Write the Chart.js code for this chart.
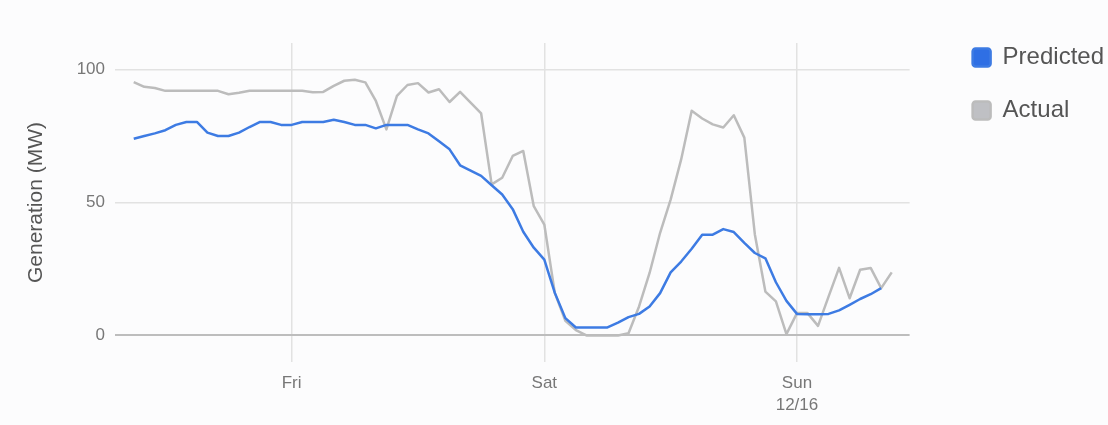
<!DOCTYPE html>
<html>
<head>
<meta charset="utf-8">
<script src="https://cdn.jsdelivr.net/npm/chart.js@4"></script>
<style>
  html, body { margin: 0; padding: 0; background: #fcfcfd; }
  #wrap { width: 1108px; height: 425px; }
</style>
</head>
<body>
<div id="wrap"><canvas id="genChart"></canvas></div>
<script>
// hours counted from Thursday 00:00
var hours = [9, 10, 11, 12, 13, 14, 15, 16, 17, 18, 19, 20, 21, 22, 23, 24, 25, 26, 27, 28,
             29, 30, 31, 32, 33, 34, 35, 36, 37, 38, 39, 40, 41, 42, 43, 44, 45, 46, 47, 48,
             49, 50, 51, 52, 53, 54, 55, 56, 57, 58, 59, 60, 61, 62, 63, 64, 65, 66, 67, 68,
             69, 70, 71, 72, 73, 74, 75, 76, 77, 78, 79, 80, 81];

var predicted = [74, 75, 76, 77.2, 79.2, 80.3, 80.3, 76.3, 75,
                 75, 76.3, 78.4, 80.3, 80.3, 79.2, 79.2, 80.3, 80.3, 80.3,
                 81.1, 80.3, 79.2, 79.2, 77.9, 79.2, 79.2, 79.2, 77.5, 76,
                 73, 70, 64, 62, 60, 56.5, 53, 47.5, 39, 33,
                 28.5, 16, 6.5, 3, 3, 3, 3, 4.8, 6.9, 8.1,
                 10.9, 15.9, 23.7, 27.8, 32.6, 37.9, 37.9, 40, 38.9, 34.8,
                 31, 29, 20, 13, 8.1, 8, 8, 8.1, 9.4, 11.5,
                 13.7, 15.5, 17.8];

var actual = [95.3, 93.5, 93.1, 92, 92, 92, 92, 92, 92,
              90.7, 91.3, 92, 92, 92, 92, 92, 92, 91.5, 91.6,
              93.9, 95.8, 96.2, 95.2, 88.2, 77.5, 90.1, 94.2, 94.9, 91.4,
              92.6, 87.8, 91.6, 87.6, 83.5, 56.8, 59.3, 67.5, 69.4, 48.6,
              41.7, 15.9, 5.5, 2, 0, 0, 0, 0, 0.8, 10.9,
              23.5, 38.6, 51.1, 66.2, 84.5, 81.6, 79.4, 78.2, 82.8, 74.4,
              38, 16.5, 12.8, 0.5, 8.4, 8.4, 3.6, 14.6, 25.4, 14,
              24.7, 25.4, 17.8, 23.7];

var tickHours = [24, 48, 72];
var tickLabels = ['Fri', 'Sat', ['Sun', '12/16']];
var yTicks = [0, 50, 100];

var fontFam = "'Liberation Sans', Arial, sans-serif";

function toPoints(vals) {
  var pts = [];
  for (var i = 0; i < vals.length; i++) {
    pts.push({ x: hours[i], y: vals[i] });
  }
  return pts;
}

var ctx = document.getElementById('genChart');

var genChart = new Chart(ctx, {
  type: 'line',
  data: {
    datasets: [
      {
        label: 'Predicted',
        data: toPoints(predicted),
        borderColor: '#3d7be3',
        backgroundColor: '#2f6fe4',
        borderWidth: 2.5,
        pointRadius: 0,
        tension: 0,
        borderJoinStyle: 'round'
      },
      {
        label: 'Actual',
        data: toPoints(actual),
        borderColor: '#bcbcbc',
        backgroundColor: '#bfc0c4',
        borderWidth: 2.5,
        pointRadius: 0,
        tension: 0,
        borderJoinStyle: 'round'
      }
    ]
  },
  options: {
    responsive: true,
    maintainAspectRatio: false,
    animation: false,
    layout: { padding: { top: 16.5, right: -6, bottom: 9, left: 0 } },
    plugins: {
      tooltip: { enabled: false },
      title: {
        display: true,
        text: '',
        fullSize: false,
        font: { size: 10 },
        padding: { top: 0, bottom: 14.5 }
      },
      legend: {
        position: 'right',
        align: 'start',
        labels: {
          boxWidth: 18,
          boxHeight: 18,
          padding: 29,
          useBorderRadius: true,
          borderRadius: 3,
          color: '#555',
          font: { size: 24, family: fontFam }
        }
      }
    },
    scales: {
      x: {
        type: 'linear',
        min: 7.22,
        max: 82.7,
        afterBuildTicks: function(scale) {
          scale.ticks = tickHours.map(function(v) { return { value: v }; });
        },
        afterFit: function(scale) { scale.height = 54; },
        ticks: {
          autoSkip: false,
          maxRotation: 0,
          padding: 11,
          color: '#777',
          font: { size: 17, family: fontFam, lineHeight: 1.27 },
          callback: function(value) {
            return tickLabels[tickHours.indexOf(value)];
          }
        },
        grid: { color: '#e2e2e2', lineWidth: 1.5, drawTicks: false },
        border: { display: false }
      },
      y: {
        min: -10,
        max: 110,
        afterBuildTicks: function(scale) {
          scale.ticks = yTicks.map(function(v) { return { value: v }; });
        },
        afterFit: function(scale) { scale.width = 115; },
        ticks: {
          padding: 10,
          color: '#777',
          font: { size: 17, family: fontFam }
        },
        grid: {
          drawTicks: false,
          color: function(c) { return c.tick && c.tick.value === 0 ? '#bdbdbd' : '#e2e2e2'; },
          lineWidth: function(c) { return c.tick && c.tick.value === 0 ? 2 : 1.5; }
        },
        border: { display: false },
        title: {
          display: true,
          text: 'Generation (MW)',
          color: '#555',
          font: { size: 21, family: fontFam },
          padding: { top: 23.4, bottom: 0 }
        }
      },
      y2: {
        position: 'right',
        grid: { display: false },
        ticks: { display: false },
        border: { display: false },
        afterFit: function(scale) { scale.width = 34; }
      }
    }
  }
});
</script>
</body>
</html>
